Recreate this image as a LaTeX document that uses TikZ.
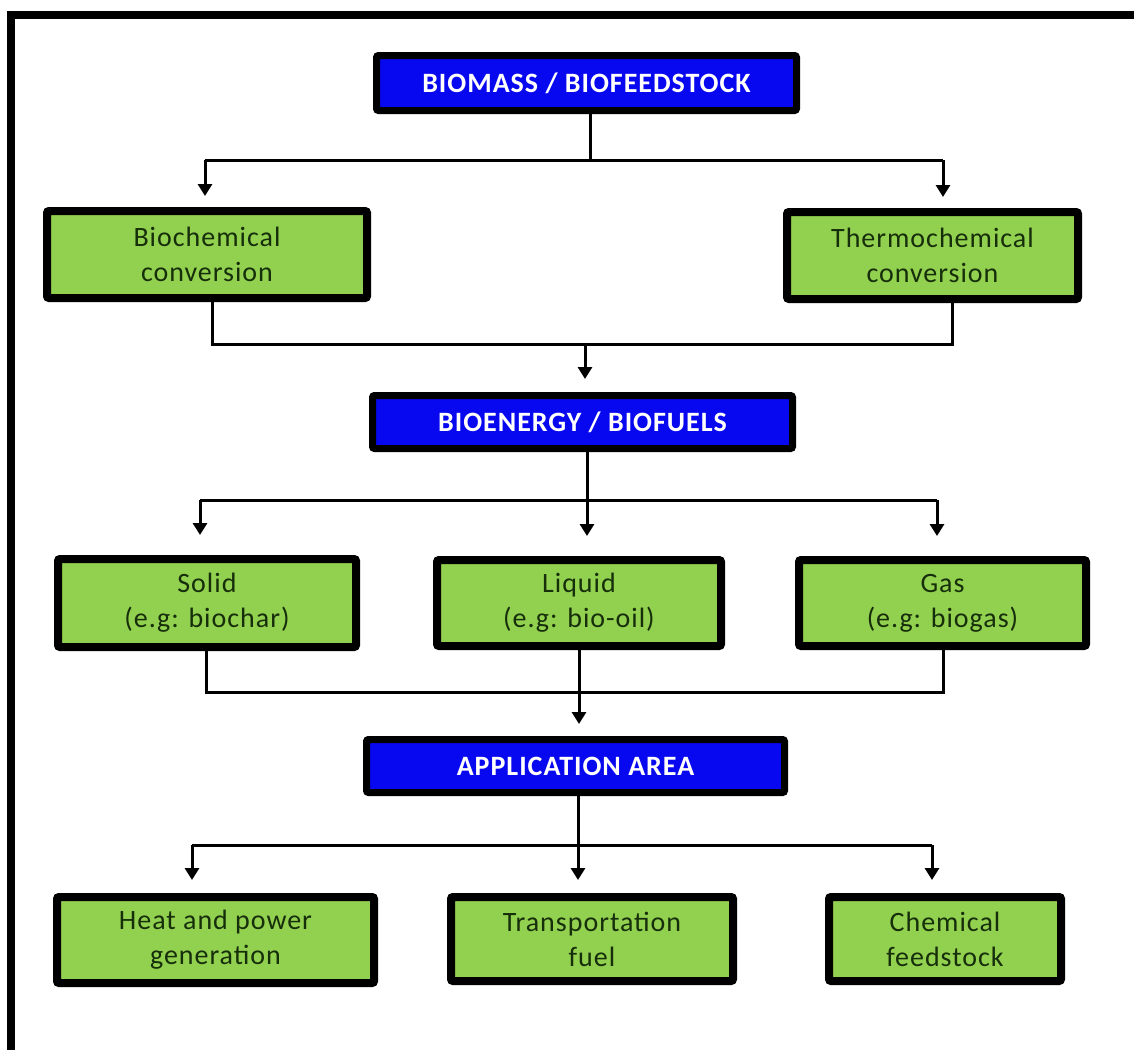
\documentclass[tikz,border=0pt]{standalone}
\usepackage{fontspec}
\setmainfont{Carlito}[LetterSpace=3.5]
\usetikzlibrary{arrows.meta}
\definecolor{boxblue}{RGB}{8,8,240}
\definecolor{boxgreen}{RGB}{146,208,80}
\definecolor{txtgreen}{RGB}{22,46,10}
\begin{document}
\begin{tikzpicture}[x=1pt,y=-1pt,
  hdr/.style={draw=black, line width=7pt, fill=boxblue, rounded corners=2pt,
    text=white, font=\bfseries\fontsize{28}{32}\selectfont, inner sep=0pt},
  grn/.style={draw=black, line width=8pt, fill=boxgreen, rounded corners=2pt,
    text=txtgreen, font=\fontsize{28}{35}\selectfont, align=center, inner sep=0pt},
  conn/.style={line width=3pt},
  arr/.style={conn, -{Triangle[width=14pt,length=12pt]}}]
\useasboundingbox (0,0) rectangle (1134,1050);
\fill[white] (0,0) rectangle (1134,1050);
% frame
\draw[line width=8pt] (11,1050) -- (11,14.5) -- (1134,14.5);
% nodes
\node[hdr, minimum width=420pt, minimum height=55pt] (top) at (586.5,83) {BIOMASS / BIOFEEDSTOCK};
\node[grn, minimum width=320pt, minimum height=87pt] (bioc) at (207,254.5) {Biochemical\\conversion};
\node[grn, minimum width=291pt, minimum height=87pt] (therm) at (932.5,255.5) {Thermochemical\\conversion};
\node[hdr, minimum width=420pt, minimum height=53pt] (energy) at (582.5,422) {BIOENERGY / BIOFUELS};
\node[grn, minimum width=298pt, minimum height=88pt] (solid) at (207,603) {Solid\\(e.g: biochar)};
\node[grn, minimum width=284pt, minimum height=86pt] (liquid) at (579,603) {Liquid\\(e.g: bio-oil)};
\node[grn, minimum width=287pt, minimum height=86pt] (gas) at (942.5,603) {Gas\\(e.g: biogas)};
\node[hdr, minimum width=418pt, minimum height=53pt] (app) at (575.5,766) {APPLICATION AREA};
\node[grn, minimum width=317pt, minimum height=86pt] (heat) at (215.5,940) {Heat and power\\generation};
\node[grn, minimum width=282pt, minimum height=84pt] (trans) at (592,939) {Transportation\\fuel};
\node[grn, minimum width=232pt, minimum height=84pt] (chem) at (945,939) {Chemical\\feedstock};
% junction coordinates
\coordinate (j1) at (590,160);
\coordinate (j1L) at (205,160);
\coordinate (j1R) at (943,160);
\coordinate (j2L) at (212,344);
\coordinate (j2R) at (952,344);
\coordinate (j2) at (585,344);
\coordinate (j3) at (587,500);
\coordinate (j3L) at (200,500);
\coordinate (j3R) at (937,500);
\coordinate (j4L) at (206,692);
\coordinate (j4R) at (943,692);
\coordinate (j5) at (578,845);
\coordinate (j5L) at (192,845);
\coordinate (j5R) at (932,845);
% level 1
\draw[conn] (top.south -| j1) -- (j1);
\draw[conn] (j1L) -- (j1R);
\draw[arr, shorten >=11pt] (j1L) -- (bioc.north -| j1L);
\draw[arr, shorten >=11pt] (j1R) -- (therm.north -| j1R);
% level 2
\draw[conn] (bioc.south -| j2L) -- (j2L) -- (j2R) -- (therm.south -| j2R);
\draw[arr, shorten >=13pt] (j2) -- (energy.north -| j2);
% level 3
\draw[arr, shorten >=20pt] (energy.south -| j3) -- (liquid.north -| j3);
\draw[conn] (j3L) -- (j3R);
\draw[arr, shorten >=20pt] (j3L) -- (solid.north -| j3L);
\draw[arr, shorten >=20pt] (j3R) -- (gas.north -| j3R);
% level 4
\draw[conn] (solid.south -| j4L) -- (j4L) -- (j4R) -- (gas.south -| j4R);
\draw[arr, shorten >=12pt] (liquid.south) -- (app.north -| liquid.south);
% level 5
\draw[arr, shorten >=13pt] (app.south -| j5) -- (trans.north -| j5);
\draw[conn] (j5L) -- (j5R);
\draw[arr, shorten >=13pt] (j5L) -- (heat.north -| j5L);
\draw[arr, shorten >=13pt] (j5R) -- (chem.north -| j5R);
\end{tikzpicture}
\end{document}
